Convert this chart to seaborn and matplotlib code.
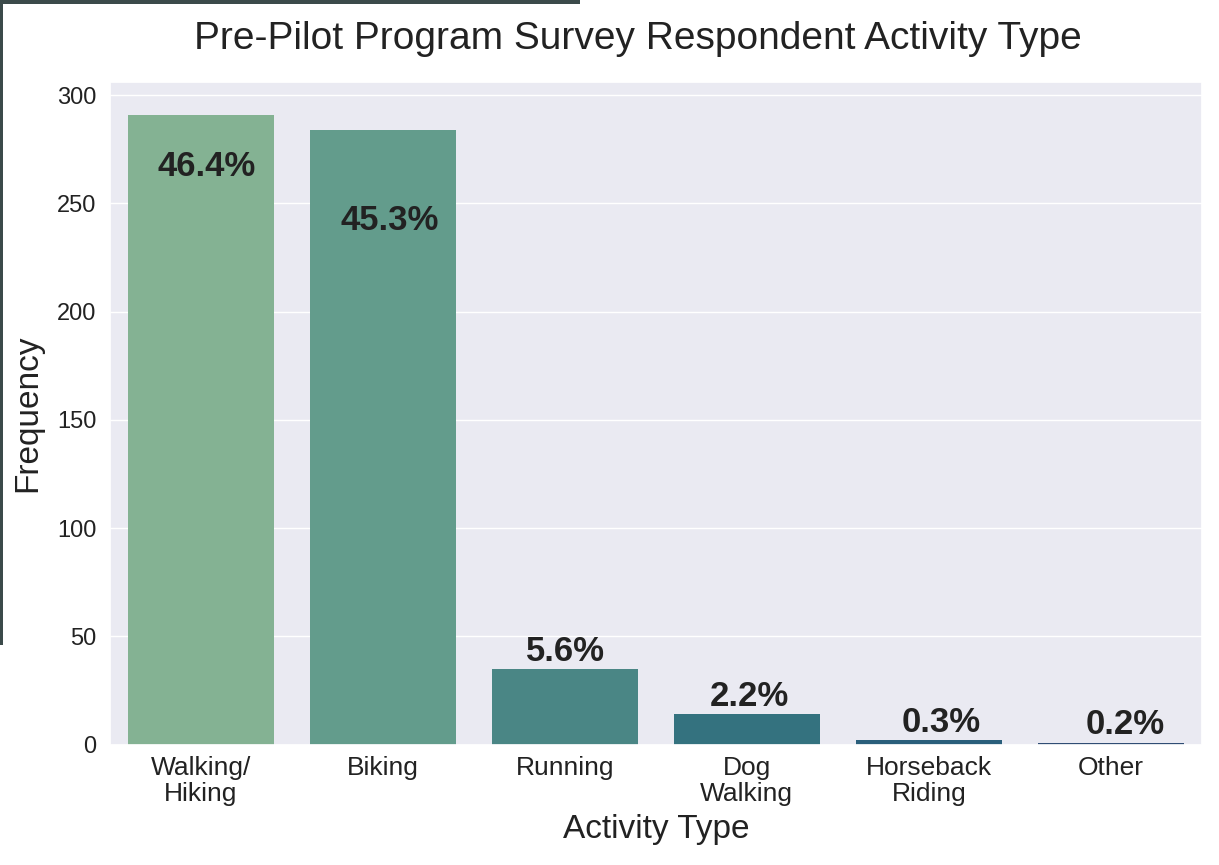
import matplotlib
matplotlib.use("Agg")
import matplotlib.pyplot as plt
import seaborn as sns
import pandas as pd

activities = ["Walking/\nHiking", "Biking", "Running", "Dog\nWalking", "Horseback\nRiding", "Other"]
counts = [291, 284, 35, 14, 2, 1]
pct_labels = ["46.4%", "45.3%", "5.6%", "2.2%", "0.3%", "0.2%"]
# first two labels sit inside the bar, the rest above it
inside = [True, True, False, False, False, False]
inside_drop = [24, 42, 0, 0, 0, 0]
label_shift = [0.035, 0.04, 0.005, 0.015, 0.065, 0.08]

sns.set_theme(style="darkgrid")
plt.rcParams['font.family'] = ['Liberation Sans', 'DejaVu Sans']

df = pd.DataFrame({"Activity": activities, "Frequency": counts})

fig = plt.figure(figsize=(12.19, 8.65), dpi=100)
ax = fig.add_axes([0.090, 0.139, 0.896, 0.766])

sns.barplot(
    data=df,
    x="Activity",
    y="Frequency",
    hue="Activity",
    palette="crest",
    legend=False,
    linewidth=0,
    ax=ax
)

ax.grid(axis="x", visible=False)
ax.set_ylim(0, 306)
ax.set_yticks([0, 50, 100, 150, 200, 250, 300])

for i, (c, lab) in enumerate(zip(counts, pct_labels)):
    if inside[i]:
        ax.text(i + label_shift[i], c - inside_drop[i], lab, ha="center", va="center",
                fontsize=25, fontweight="bold", color="#222222")
    else:
        ax.annotate(lab, (i + label_shift[i], c), xytext=(0, 1), textcoords="offset points",
                    ha="center", va="bottom",
                    fontsize=25, fontweight="bold", color="#222222")

ax.set_title("Pre-Pilot Program Survey Respondent Activity Type",
             fontsize=28, color="#222222", pad=24, x=0.484)
ax.set_xlabel("Activity Type", fontsize=24, color="#222222", labelpad=6)
ax.set_ylabel("Frequency", fontsize=24, color="#222222", labelpad=10)
ax.tick_params(axis="x", labelsize=19, colors="#222222", pad=2)
ax.tick_params(axis="y", labelsize=17, colors="#222222")
for t in ax.get_xticklabels():
    t.set_linespacing(1.1)

# dark border left over from the screenshot
fig.add_artist(plt.Rectangle((0, 1 - 4 / 865), 580 / 1219, 4 / 865,
                             transform=fig.transFigure, color="#3b4a4a", lw=0))
fig.add_artist(plt.Rectangle((0, 1 - 645 / 865), 3 / 1219, 645 / 865,
                             transform=fig.transFigure, color="#3b4a4a", lw=0))

fig.savefig("out.png", dpi=100)
plt.close()
